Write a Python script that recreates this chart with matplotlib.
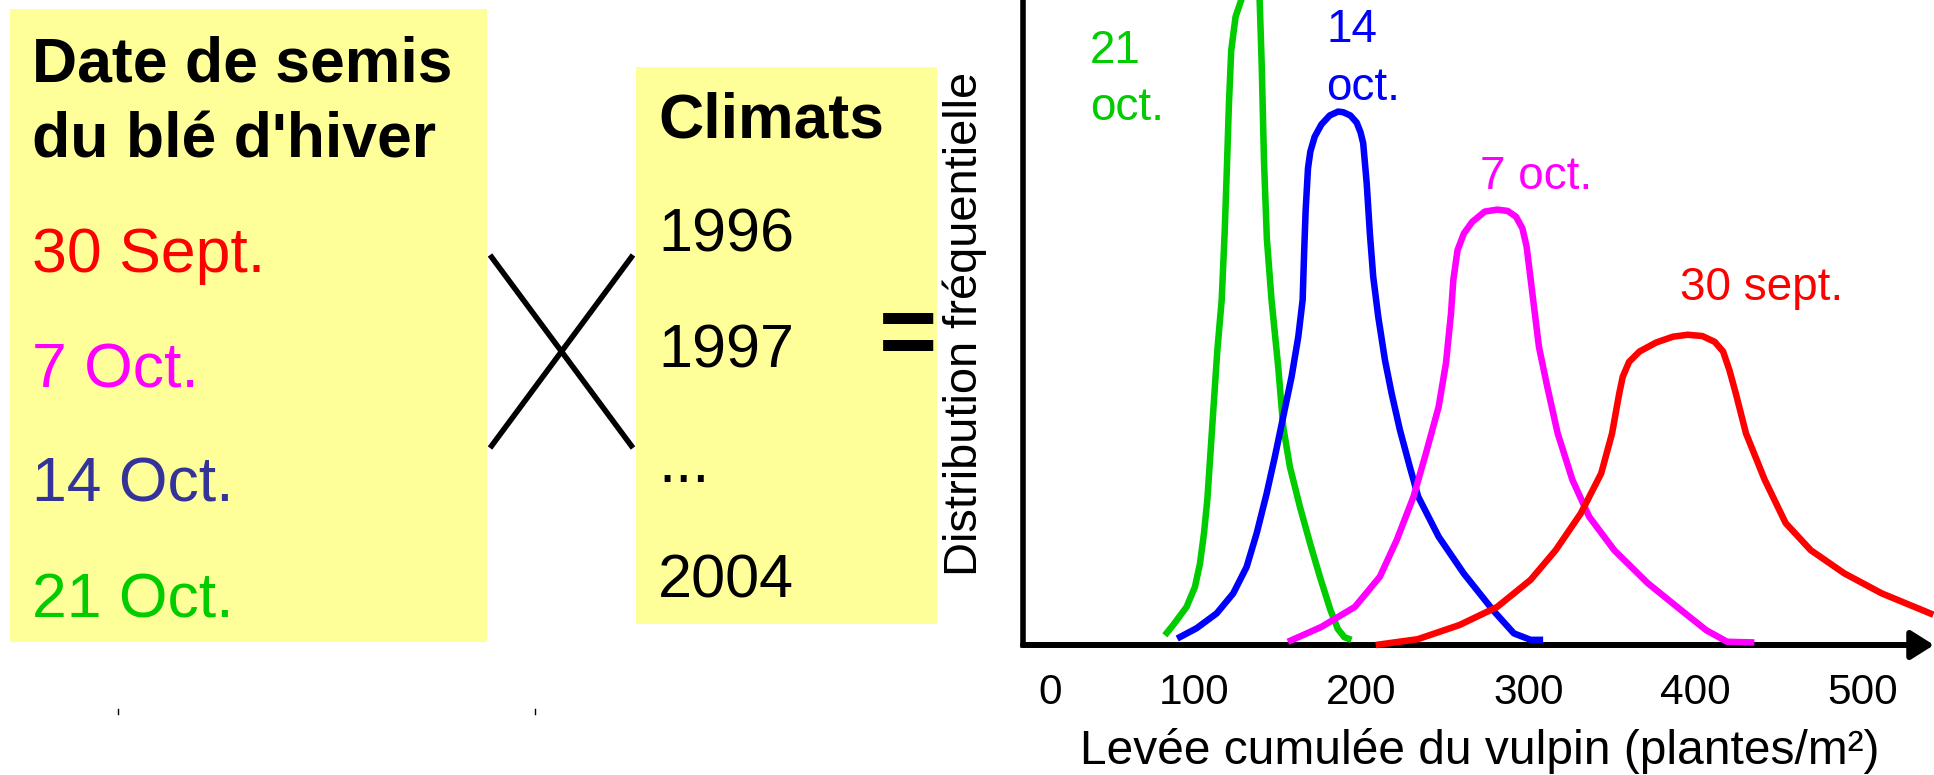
import matplotlib
matplotlib.use("Agg")
import matplotlib.pyplot as plt
from matplotlib.patches import Rectangle

plt.rcParams['font.family'] = ['Liberation Sans', 'DejaVu Sans']

# --- data (x: plants/m², y: relative frequency, % of axis height) ---
green_x = [82.6, 87.6, 95.6, 100.6, 103.6, 106.0, 108.0, 110.0, 112.0, 114.0, 116.6,
           118.4, 119.7, 120.9, 122.3, 124.9, 128.3, 132.3, 136.3, 139.3, 140.5, 141.9,
           143.6, 146.4, 150.4, 153.4, 157.4, 163.4, 169.4, 175.3, 181.5, 186.0, 190.0, 194.2]
green_y = [1.5, 3.1, 5.9, 9.0, 12.6, 17.3, 22.5, 30.2, 38.0, 45.7, 53.5,
           64.1, 73.9, 83.7, 92.2, 97.4, 100.0, 104.0, 102.0, 100.0, 90.2, 75.0,
           63.0, 53.5, 43.1, 33.8, 27.6, 21.4, 15.8, 10.6, 5.5, 2.5, 1.2, 0.8]

blue_x = [90.0, 101.6, 113.6, 123.5, 131.5, 137.5, 143.5, 148.4, 153.4, 158.4, 162.4,
          165.0, 165.9, 166.8, 168.2, 169.6, 172.2, 176.2, 181.2, 186.2, 189.3, 193.5,
          197.3, 199.6, 201.2, 203.3, 205.2, 207.2, 210.2, 214.2, 218.2, 223.2, 229.1,
          234.1, 246.3, 261.3, 278.8, 291.3, 301.3, 308.8]
blue_y = [1.0, 2.6, 4.9, 8.0, 12.1, 17.3, 23.5, 29.2, 35.4, 41.6, 47.8,
          53.5, 60.9, 67.4, 73.9, 76.5, 78.8, 80.7, 82.1, 82.7, 82.6, 82.1,
          81.0, 79.5, 77.8, 71.6, 63.8, 57.1, 50.9, 44.2, 39.0, 33.3, 27.6,
          23.0, 16.8, 11.1, 5.4, 1.8, 0.8, 0.8]

pink_x = [156.2, 176.2, 196.2, 211.2, 221.3, 231.3, 238.7, 246.3, 250.7, 253.7, 255.1,
          257.6, 261.4, 266.4, 273.9, 281.4, 287.6, 292.6, 296.4, 298.9, 300.9, 302.6,
          306.3, 311.3, 317.5, 326.3, 336.3, 351.3, 371.3, 391.3, 406.3, 418.8, 435.1]
pink_y = [0.5, 2.8, 5.9, 10.6, 16.3, 23.0, 29.7, 36.9, 43.7, 51.4, 56.6,
          61.2, 63.8, 65.6, 67.2, 67.5, 67.3, 66.4, 64.6, 61.8, 57.6, 54.0,
          46.2, 40.0, 32.8, 25.6, 19.9, 14.7, 9.6, 5.4, 2.3, 0.5, 0.4]

red_x = [208.7, 233.8, 258.8, 281.3, 301.3, 316.3, 331.3, 343.5, 350.0, 354.3, 356.4,
         360.2, 366.4, 376.4, 386.4, 395.2, 404.0, 411.4, 416.4, 420.2, 424.0, 430.1,
         441.3, 453.8, 468.8, 488.9, 511.3, 542.1]
red_y = [0.0, 0.9, 3.1, 5.9, 10.1, 14.7, 20.4, 26.6, 32.8, 39.0, 41.6,
         43.9, 45.5, 46.9, 47.8, 48.1, 47.9, 47.0, 45.5, 42.6, 39.0, 32.8,
         25.6, 18.9, 14.7, 11.1, 8.0, 4.7]

tick_pos = [14, 100, 200, 300, 400, 500]
tick_labels = ["0", "100", "200", "300", "400", "500"]

sowing_dates = ["30 Sept.", "7 Oct.", "14 Oct.", "21 Oct."]
sowing_colors = ["#FF0000", "#FF00FF", "#333399", "#00CC00"]
climate_years = ["1996", "1997", "...", "2004"]

W, H = 1934, 775
fig = plt.figure(figsize=(W / 100, H / 100), dpi=100)

# pixel canvas for the left-hand "formula" part
ax0 = fig.add_axes([0, 0, 1, 1])
ax0.set_xlim(0, W)
ax0.set_ylim(H, 0)
ax0.axis('off')

ax0.add_patch(Rectangle((10, 9), 477, 633, fc='#FFFF99', ec='none'))
ax0.add_patch(Rectangle((636, 67), 301, 557, fc='#FFFF99', ec='none'))

ax0.text(32, 82, "Date de semis", fontsize=45, fontweight='bold', va='baseline')
ax0.text(32, 157, "du blé d'hiver", fontsize=45, fontweight='bold', va='baseline')
for i, (lab, col) in enumerate(zip(sowing_dates, sowing_colors)):
    ax0.text(32, 272 + i * 115, lab, fontsize=45, color=col, va='baseline')

ax0.text(658, 138, "Climats", fontsize=45, fontweight='bold', va='baseline')
for i, yr in enumerate(climate_years):
    ax0.text(658, 252 + i * 115, yr, fontsize=44, va='baseline')

# the "X" between the boxes and the "=" sign
ax0.plot([490, 633], [255, 448], color='black', lw=4, solid_capstyle='butt')
ax0.plot([490, 633], [448, 255], color='black', lw=4, solid_capstyle='butt')
ax0.text(908, 365, "=", fontsize=72, fontweight='bold', ha='center', va='baseline')

# tiny stray marks under the left box
ax0.plot([117.5, 117.5], [709, 714], color='black', lw=1)
ax0.plot([535, 535], [709, 714], color='black', lw=1)

ax0.text(977, 324, "Distribution fréquentielle", fontsize=33.8, rotation=90,
         rotation_mode='anchor', ha='center', va='baseline')
ax0.text(1480, 764, "Levée cumulée du vulpin (plantes/m²)", fontsize=34.5,
         ha='center', va='baseline')

# chart labels
ax0.text(1090, 63, "21", fontsize=33, color='#00CC00', va='baseline')
ax0.text(1090, 120, "oct.", fontsize=33, color='#00CC00', va='baseline')
ax0.text(1326, 42, "14", fontsize=33, color='#0000FF', va='baseline')
ax0.text(1326, 100, "oct.", fontsize=33, color='#0000FF', va='baseline')
ax0.text(1480, 189, "7 oct.", fontsize=33, color='#FF00FF', va='baseline')
ax0.text(1680, 300, "30 sept.", fontsize=33, color='#FF0000', va='baseline')

# --- the distribution chart ---
ax = fig.add_axes([1023 / W, 130 / H, 911 / W, 645 / H])
ax.set_facecolor('none')
ax.set_xlim(-2.2, 542.5)
ax.set_ylim(0, 100)
for side in ['top', 'right', 'bottom']:
    ax.spines[side].set_visible(False)
ax.spines['left'].set_linewidth(4)
ax.set_yticks([])
ax.set_xticks(tick_pos, tick_labels, fontsize=30.5)
ax.tick_params(axis='x', length=0, pad=20)

ax.annotate('', xy=(542.5, 0), xytext=(-2.2, 0), annotation_clip=False,
            arrowprops=dict(arrowstyle='-|>,head_length=0.46,head_width=0.29',
                            lw=4.3, color='black', mutation_scale=30,
                            shrinkA=0, shrinkB=0), zorder=1)

for xs, ys, col in [(green_x, green_y, '#00CC00'), (blue_x, blue_y, '#0000FF'),
                    (pink_x, pink_y, '#FF00FF'), (red_x, red_y, '#FF0000')]:
    ax.plot(xs, ys, color=col, lw=4.7, clip_on=False, zorder=3,
            solid_joinstyle='round', solid_capstyle='butt')

fig.savefig("out.png", dpi=100)
